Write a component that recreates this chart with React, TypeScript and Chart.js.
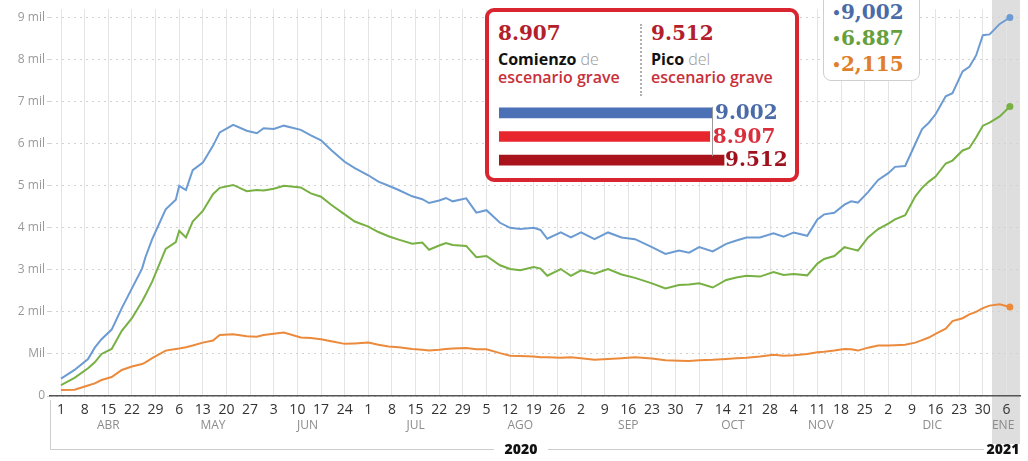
import React, { useEffect, useRef } from "react";
import { Chart, registerables } from "chart.js";
Chart.register(...registerables);

// Day offsets from 1 April 2020
const days = [0,4,8,10,12,15,18,21,24,25,27,31,34,35,37,39,42,45,47,51,55,58,60,63,66,71,74,77,80,84,87,91,94,97,100,104,107,109,112,114,116,120,123,126,130,133,136,140,142,144,148,151,154,158,162,166,170,175,179,183,186,189,193,197,200,203,207,211,214,217,221,224,226,229,232,234,236,239,242,245,247,250,253,255,257,259,262,264,267,269,271,273,275,278,281];

const serieAzul = [415,620,880,1150,1350,1580,2090,2560,3030,3300,3730,4440,4670,5000,4900,5370,5550,5950,6270,6450,6310,6250,6370,6350,6430,6330,6200,6080,5850,5570,5420,5250,5100,5000,4900,4750,4680,4590,4650,4710,4630,4700,4360,4420,4120,4000,3970,4000,3950,3740,3890,3770,3890,3730,3890,3770,3730,3540,3380,3460,3410,3540,3440,3620,3700,3770,3770,3870,3790,3890,3810,4200,4320,4360,4550,4630,4600,4850,5140,5300,5450,5470,6000,6350,6500,6700,7130,7200,7720,7830,8100,8580,8600,8850,9002];

const serieVerde = [260,430,660,800,1000,1120,1550,1850,2250,2400,2720,3500,3660,3930,3770,4150,4400,4800,4950,5020,4870,4900,4890,4930,5000,4960,4820,4740,4550,4320,4150,4030,3900,3800,3720,3620,3650,3480,3580,3640,3590,3570,3300,3330,3110,3020,2990,3070,3030,2860,3020,2860,2990,2910,3020,2890,2810,2680,2560,2640,2650,2680,2580,2760,2820,2860,2840,2950,2880,2900,2870,3150,3260,3330,3540,3500,3460,3770,3970,4100,4200,4300,4750,4950,5100,5220,5530,5600,5840,5900,6150,6430,6500,6650,6887];

const serieNaranja = [140,150,250,300,380,450,620,700,760,800,900,1080,1120,1130,1160,1200,1270,1320,1450,1470,1420,1410,1450,1480,1510,1390,1380,1350,1300,1240,1250,1270,1220,1180,1160,1120,1100,1080,1100,1120,1130,1140,1110,1110,1020,960,950,940,920,920,910,920,900,860,880,900,920,890,850,840,830,850,860,880,900,910,940,980,960,970,1000,1040,1050,1080,1120,1110,1080,1150,1200,1200,1210,1220,1270,1330,1390,1480,1600,1780,1850,1940,2000,2090,2150,2180,2115];

const xTickLabels = ["1","8","15","22","29","6","13","20","27","3","10","17","24","1","8","15","22","29","5","12","19","26","2","9","16","23","30","7","14","21","28","4","11","18","25","2","9","16","23","30","6"];
const monthLabels = ["ABR","MAY","JUN","JUL","AGO","SEP","OCT","NOV","DIC","ENE"];
const monthDays = [14,45,73,105,136,168,199,225,258,279];
const yearLabels = ["2020","2021"];
const yTickLabels = ["0","Mil","2 mil","3 mil","4 mil","5 mil","6 mil","7 mil","8 mil","9 mil"];

const legendTexts = ["9,002","6.887","2,115"];

const insetCategories = ["Actual","Comienzo","Pico"];
const insetValues = [9002, 8907, 9512];

const C_BLUE = "#6b9bd2";
const C_GREEN = "#77b043";
const C_ORANGE = "#ec8a3c";
const T_BLUE = "#4a6ba8";
const T_GREEN = "#66a03c";
const T_ORANGE = "#e07e2c";

const fmt = (v: number) => String(v).replace(/\B(?=(\d{3})+(?!\d))/g, ".");

const serif = '"DejaVu Serif", serif';
const sans = '"Open Sans", sans-serif';

export default function App() {
  const mainRef = useRef<HTMLCanvasElement>(null);
  const insetRef = useRef<HTMLCanvasElement>(null);

  useEffect(() => {
    document.body.style.margin = "0";
    const mk = (arr: number[]) => days.map((d, i) => ({ x: d, y: arr[i] }));
    const lastR = (ctx: any) => (ctx.dataIndex === days.length - 1 ? 3.5 : 0);

    const decor = {
      id: "decor",
      beforeDraw(chart: any) {
        const { ctx, scales } = chart;
        const xs = scales.x;
        const x0 = xs.getPixelForValue(275.7);
        const x1 = chart.chartArea.right;
        ctx.save();
        ctx.fillStyle = "#dedede";
        ctx.fillRect(x0, 0, x1 - x0, 444);
        ctx.restore();
      },
      afterDraw(chart: any) {
        const { ctx, scales, chartArea } = chart;
        const xs = scales.x;
        ctx.save();
        ctx.fillStyle = "#8c8c8c";
        ctx.font = `12px ${sans}`;
        ctx.textAlign = "center";
        ctx.textBaseline = "middle";
        monthLabels.forEach((m, i) => {
          ctx.fillText(m, xs.getPixelForValue(monthDays[i]), 426);
        });
        // bracket
        ctx.strokeStyle = "#cccccc";
        ctx.lineWidth = 1;
        ctx.beginPath();
        ctx.moveTo(chartArea.left + 0.5, 400);
        ctx.lineTo(chartArea.left + 0.5, 449.5);
        ctx.lineTo(494, 449.5);
        ctx.moveTo(548, 449.5);
        ctx.lineTo(984, 449.5);
        ctx.stroke();
        ctx.fillStyle = "#111";
        ctx.font = `800 14px ${sans}`;
        ctx.fillText(yearLabels[0], 521, 450);
        ctx.fillText(yearLabels[1], 1003, 450);
        ctx.restore();
      },
    };

    const chart = new Chart(mainRef.current!, {
      type: "line",
      data: {
        datasets: [
          { data: mk(serieAzul), borderColor: C_BLUE, backgroundColor: C_BLUE, borderWidth: 2, pointRadius: lastR, pointBorderWidth: 0, tension: 0 },
          { data: mk(serieVerde), borderColor: C_GREEN, backgroundColor: C_GREEN, borderWidth: 2, pointRadius: lastR, pointBorderWidth: 0, tension: 0 },
          { data: mk(serieNaranja), borderColor: C_ORANGE, backgroundColor: C_ORANGE, borderWidth: 2, pointRadius: lastR, pointBorderWidth: 0, tension: 0 },
        ],
      },
      options: {
        responsive: false,
        animation: false,
        layout: { padding: { top: 4, right: 8, left: 0, bottom: 0 } },
        plugins: { legend: { display: false }, tooltip: { enabled: false } },
        scales: {
          x: {
            type: "linear",
            min: -3.26,
            max: 284,
            afterBuildTicks: (axis: any) => {
              axis.ticks = xTickLabels.map((_, i) => ({ value: i * 7 }));
            },
            afterFit: (s: any) => { s.height = 65; },
            ticks: {
              autoSkip: false,
              maxRotation: 0,
              padding: 6,
              color: "#333",
              font: { family: sans, size: 14 },
              callback: (v: any) => xTickLabels[Math.round(v / 7)] ?? "",
            },
            grid: { color: "#e4e4e4", lineWidth: 1, drawTicks: false },
            border: { display: true, color: "#555", width: 1.5 },
          },
          y: {
            min: 0,
            max: 9200,
            afterBuildTicks: (axis: any) => {
              axis.ticks = yTickLabels.map((_, i) => ({ value: i * 1000 }));
            },
            afterFit: (s: any) => { s.width = 50; },
            ticks: {
              padding: 2,
              color: "#999",
              font: { family: sans, size: 12 },
              callback: (v: any) => yTickLabels[Math.round(v / 1000)] ?? "",
            },
            grid: { color: "#d2d2d2", lineWidth: 1, tickLength: 3, drawTicks: true },
            border: { display: false, dash: [2, 4] },
          },
        },
      },
      plugins: [decor],
    });

    const insetColors = ["#4c70b6", "#e8262d", "#a8131c"];
    const insetTextColors = ["#4a6aa8", "#d92f3c", "#9e121d"];
    const insetLabels = {
      id: "insetLabels",
      afterDatasetsDraw(ch: any) {
        const ctx = ch.ctx;
        const meta = ch.getDatasetMeta(0);
        const xs = ch.scales.x;
        const rx = Math.round(xs.getPixelForValue(insetValues[0])) + 0.5;
        ctx.save();
        ctx.strokeStyle = "#9a9a9a";
        ctx.lineWidth = 1;
        ctx.beginPath();
        ctx.moveTo(rx, meta.data[0].y - 6);
        ctx.lineTo(rx, meta.data[2].y - 4);
        ctx.stroke();
        ctx.font = `bold 20px ${serif}`;
        ctx.textBaseline = "middle";
        meta.data.forEach((bar: any, i: number) => {
          ctx.fillStyle = insetTextColors[i];
          ctx.fillText(fmt(insetValues[i]), bar.x + (i === 2 ? 1 : 3), bar.y + 1);
        });
        ctx.restore();
      },
    };

    const inset = new Chart(insetRef.current!, {
      type: "bar",
      data: {
        labels: insetCategories,
        datasets: [{ data: insetValues, backgroundColor: insetColors, barThickness: 10, borderWidth: 0 }],
      },
      options: {
        indexAxis: "y",
        responsive: false,
        animation: false,
        layout: { padding: 0 },
        plugins: { legend: { display: false }, tooltip: { enabled: false } },
        scales: {
          x: { display: false, min: 0, max: 12257 },
          y: { display: false },
        },
      },
      plugins: [insetLabels],
    });

    return () => {
      chart.destroy();
      inset.destroy();
    };
  }, []);

  const abs = (l: number, t: number, extra: any = {}) => ({ position: "absolute" as const, left: l, top: t, ...extra });

  return (
    <div style={{ position: "absolute", left: 0, top: 0, width: 1028, height: 461, background: "#fff", overflow: "hidden" }}>
      <canvas ref={mainRef} width={1028} height={461} style={abs(0, 0, { width: 1028, height: 461 })} />
      {/* legend box */}
      <div style={abs(823, -12, { width: 97, height: 93, boxSizing: "border-box", border: "1px solid #cfcfcf", borderRadius: 8, background: "#fff" })} />
      <div style={abs(832, 0, { font: `bold 20px/25px ${serif}`, whiteSpace: "pre" })}>
        <div style={{ color: T_BLUE }}><span style={{ fontSize: 14, verticalAlign: "middle" }}>•</span>{legendTexts[0]}</div>
        <div style={{ color: T_GREEN }}><span style={{ fontSize: 14, verticalAlign: "middle" }}>•</span>{legendTexts[1]}</div>
        <div style={{ color: T_ORANGE }}><span style={{ fontSize: 14, verticalAlign: "middle" }}>•</span>{legendTexts[2]}</div>
      </div>
      {/* inset box */}
      <div style={abs(485, 8, { width: 314, height: 174, boxSizing: "border-box", border: "4px solid #d9252f", borderRadius: 9, background: "#fff" })} />
      <div style={abs(498, 23, { font: `bold 20px/20px ${serif}`, color: "#b3202c" })}>{fmt(insetValues[1])}</div>
      <div style={abs(651, 23, { font: `bold 20px/20px ${serif}`, color: "#b3202c" })}>{fmt(insetValues[2])}</div>
      <div style={abs(498, 50, { font: `16px/18px ${sans}`, whiteSpace: "pre" })}>
        <div><span style={{ fontWeight: 700, color: "#111" }}>Comienzo</span><span style={{ fontWeight: 300, color: "#999" }}> de</span></div>
        <div style={{ fontWeight: 600, color: "#c8303a" }}>escenario grave</div>
      </div>
      <div style={abs(651, 50, { font: `16px/18px ${sans}`, whiteSpace: "pre" })}>
        <div><span style={{ fontWeight: 700, color: "#111" }}>Pico</span><span style={{ fontWeight: 300, color: "#999" }}> del</span></div>
        <div style={{ fontWeight: 600, color: "#c8303a" }}>escenario grave</div>
      </div>
      <div style={abs(640, 24, { height: 72, borderLeft: "2px dotted #b0b0b0" })} />
      <canvas ref={insetRef} width={290} height={71} style={abs(499, 101, { width: 290, height: 71 })} />
    </div>
  );
}
